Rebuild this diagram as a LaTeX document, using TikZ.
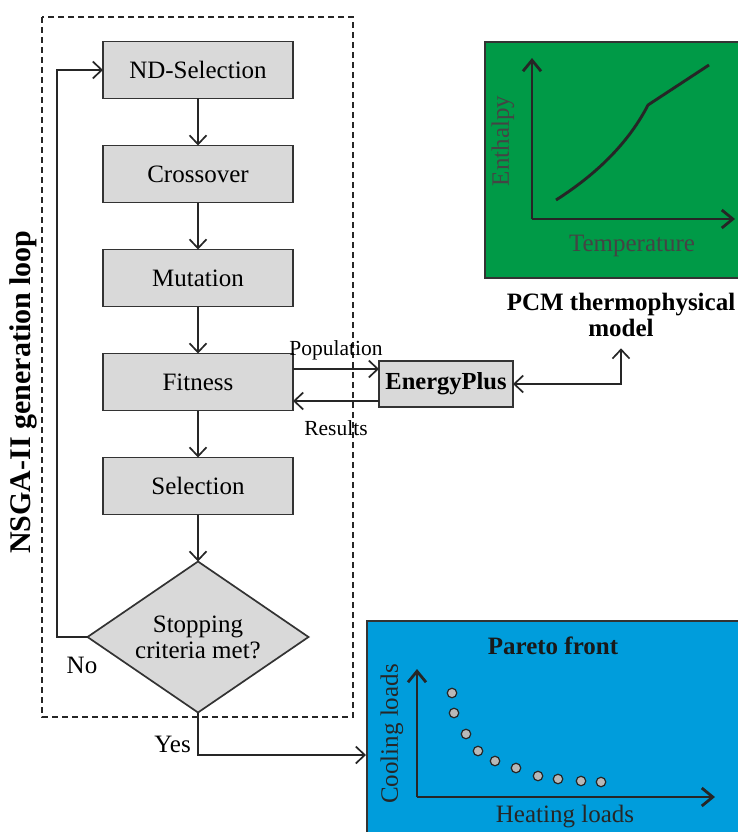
\documentclass[tikz,border=0pt]{standalone}
\usepackage{fontspec}
\setmainfont{Liberation Serif}
\usetikzlibrary{positioning, calc, arrows.meta, shapes.geometric}
\usepackage{xcolor}
\definecolor{BoxGray}{HTML}{D9D9D9}
\definecolor{EdgeGray}{HTML}{333333}
\definecolor{PanelGreen}{HTML}{009A47}
\definecolor{PanelBlue}{HTML}{009DDC}
\definecolor{AxisText}{HTML}{444444}
\definecolor{DotGray}{HTML}{B8B8B8}

\begin{document}
\begin{tikzpicture}[x=1pt, y=-1pt,
    font=\fontsize{25}{26}\selectfont,
    procbox/.style={draw=EdgeGray, line width=1.7pt, fill=BoxGray, outer sep=0pt,
      minimum width=190, minimum height=57, inner sep=0pt},
    decision/.style={diamond, aspect=1.46, draw=EdgeGray, line width=1.7pt, fill=BoxGray,
      outer sep=0pt, minimum width=221, minimum height=151, inner sep=0pt, align=center},
    flow/.style={draw=black!85, line width=1.7pt, -{Straight Barb[length=9pt, width=17pt]}},
    panel/.style={draw=EdgeGray, line width=1.7pt, anchor=north west, inner sep=0pt},
    axis/.style={line width=2.8pt, black!85, -{Straight Barb[length=11pt, width=18pt]}},
    smalllabel/.style={font=\fontsize{21.5}{23}\selectfont},
    paretodot/.style={circle, draw=black!85, line width=1.2pt, fill=DotGray,
      minimum size=9.5pt, inner sep=0pt}]
  \useasboundingbox (0,0) rectangle (737,832);

  % generation loop
  \draw[black!85, line width=1.3pt, dash pattern=on 6pt off 4pt] (42,17) rectangle (353,717);
  \node[rotate=90, font=\bfseries\fontsize{30}{31}\selectfont] (looplabel) at (23,392) {NSGA-II generation loop};

  \node[procbox] (ndsel) at (198,70) {ND-Selection};
  \node[procbox, below=47pt of ndsel] (cross) {Crossover};
  \node[procbox, below=47pt of cross] (mutation) {Mutation};
  \node[procbox, below=47pt of mutation] (fitness) {Fitness};
  \node[procbox, below=47pt of fitness] (selection) {Selection};
  \node[decision, below=47pt of selection] (stop) {Stopping\\criteria met?};

  \draw[flow] (ndsel) -- (cross);
  \draw[flow] (cross) -- (mutation);
  \draw[flow] (mutation) -- (fitness);
  \draw[flow] (fitness) -- (selection);
  \draw[flow] (selection) -- (stop);

  \coordinate (loopx) at (57,637);
  \draw[flow] (stop.west) -- (loopx) |- (ndsel.west);
  \node (nolabel) at (82,665) {No};

  % simulation
  \node[procbox, minimum width=134, minimum height=46, font=\bfseries\fontsize{24.5}{26}\selectfont] (ep) at (446,384) {EnergyPlus};
  \coordinate (popS) at ([yshift=15pt]ep.west);
  \coordinate (resS) at ([yshift=-17pt]ep.west);
  \draw[flow] (popS -| fitness.east) -- (popS) node[midway, above, smalllabel, yshift=5pt] (poplabel) {Population};
  \draw[flow] (resS) -- (resS -| fitness.east) node[midway, below, smalllabel, yshift=-15pt] (reslabel) {Results};

  % PCM model
  \node[panel, fill=PanelGreen, minimum width=262, minimum height=236] (pcm) at (484,41) {};
  \coordinate (hOrigin) at (532,219);
  \coordinate (hTop) at (532,58);
  \coordinate (hRight) at (735,219);
  \draw[axis] (hOrigin) -- (hTop);
  \draw[axis] (hOrigin) -- (hRight);
  \draw[line width=2.9pt, black!85] (556,200) .. controls (600,172) and (630,140) .. (648,105) -- (709,65);
  \node[rotate=90, text=AxisText] (enthalpy) at (503,141) {Enthalpy};
  \node[text=AxisText] (temp) at (632,246) {Temperature};
  \node[align=center, font=\bfseries\fontsize{25}{26}\selectfont] (pcmlabel) at (621,315) {PCM thermophysical\\model};
  \draw[draw=black!85, line width=1.7pt, {Straight Barb[length=9pt, width=17pt]}-{Straight Barb[length=9pt, width=17pt]}]
    (ep.east) -| ([yshift=-8pt]pcmlabel.south);

  % Pareto front
  \node[panel, fill=PanelBlue, minimum width=380, minimum height=220] (pareto) at (366,620) {};
  \node[font=\bfseries\fontsize{25}{26}\selectfont, text=black!90] (paretotitle) at (553,646) {Pareto front};
  \coordinate (pOrigin) at (417,797);
  \coordinate (pTop) at (417,669);
  \coordinate (pRight) at (715,797);
  \draw[axis] (pOrigin) -- (pTop);
  \draw[axis] (pOrigin) -- (pRight);
  \node[rotate=90, text=black!85] (cooling) at (392,734) {Cooling loads};
  \node[text=black!85] (heating) at (565,817) {Heating loads};
  \foreach \px/\py [count=\i] in {452/693, 454/713, 466/734, 478/751, 495/761,
      516/768, 538/776, 558/779, 581/781, 601/782}
    \node[paretodot] (dot\i) at (\px,\py) {};

  \coordinate (yesrow) at (0,755);
  \draw[flow] (stop.south) |- (yesrow -| pareto.west) node[pos=0.38, left, xshift=-3pt] (yeslabel) {Yes};
\end{tikzpicture}
\end{document}
